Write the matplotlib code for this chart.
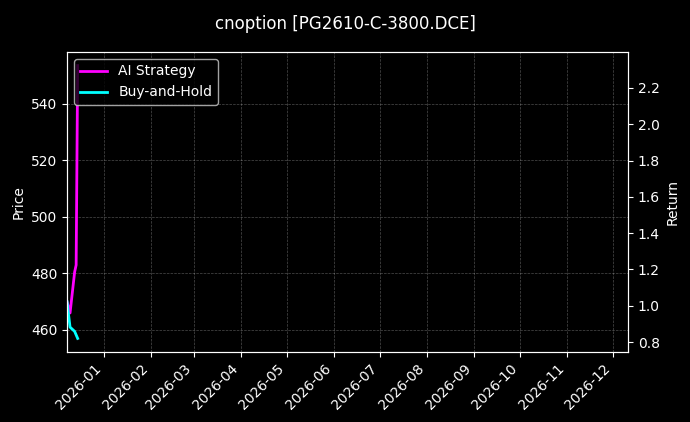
import matplotlib.pyplot as plt
import matplotlib.dates as mdates
import pandas as pd

# data
ai_dates = pd.to_datetime(["2025-12-08", "2025-12-10", "2025-12-13", "2025-12-14", "2025-12-15"])
ai_price = [470.0, 466.0, 480.5, 483.0, 553.6]
bh_dates = pd.to_datetime(["2025-12-08", "2025-12-10", "2025-12-13", "2025-12-15"])
bh_price = [470.0, 461.0, 459.5, 457.0]

plt.style.use("dark_background")
fig = plt.figure(figsize=(6.9, 4.22), dpi=100)
ax = fig.add_axes([67 / 690, 70 / 422, 561 / 690, 300 / 422])
ax.plot(ai_dates, ai_price, color="#ff00ff", linewidth=2, label="AI Strategy")
ax.plot(bh_dates, bh_price, color="#00ffff", linewidth=2, label="Buy-and-Hold")
ax.set_ylabel("Price")
ax.set_ylim(452.2, 558.4)
ax.set_xlim(pd.Timestamp("2025-12-08"), pd.Timestamp("2026-12-11"))
ax.xaxis.set_major_locator(mdates.MonthLocator())
ax.xaxis.set_major_formatter(mdates.DateFormatter("%Y-%m"))
plt.setp(ax.get_xticklabels(), rotation=45, ha="right")
ax.grid(True, linestyle="--", linewidth=0.5, alpha=0.3)
ax.legend(loc="upper left")

ax2 = ax.twinx()
ax2.set_ylim(0.745, 2.398)
ax2.set_ylabel("Return")

fig.suptitle("cnoption [PG2610-C-3800.DCE]", fontsize=12, y=0.965)
fig.savefig("out.png", dpi=100, facecolor="black")
